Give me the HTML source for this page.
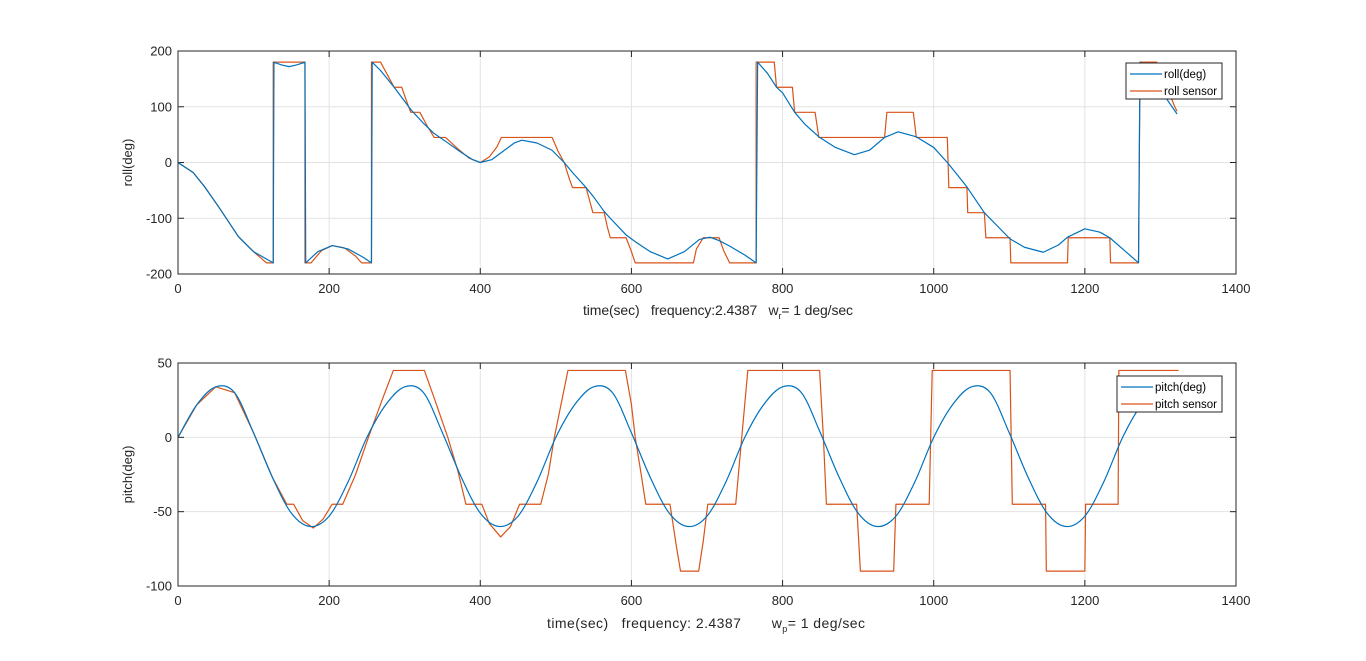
<!DOCTYPE html>
<html><head><meta charset="utf-8"><style>
html,body{margin:0;padding:0;background:#fff;}
svg{display:block;font-family:"Liberation Sans",Arial,sans-serif;}
</style></head><body>
<svg id="fig" width="1366" height="661" viewBox="0 0 1366 661" xmlns="http://www.w3.org/2000/svg">
<rect x="0" y="0" width="1366" height="661" fill="#fff"/>
</svg>
<script>
const xTicks=[0,200,400,600,800,1000,1200,1400];
const rollTicks=[-200,-100,0,100,200];
const pitchTicks=[-100,-50,0,50];
const rollT=[0,20,35,55,80,100,126,127,137,147,157,168,169,185,204,225,245,256,257,268,286,308,325,339,354,375,390,400,415,430,445,455,475,495,511,522,540,549,564,572,593,605,625,648,670,690,704,716,730,750,765,767,780,792,800,816,830,848,870,895,915,935,953,977,1000,1018,1030,1044,1067,1085,1101,1120,1145,1165,1177,1200,1220,1233,1250,1271,1273,1295,1322];
const rollV=[0,-18,-43,-82,-133,-160,-180,180,175,172,175,180,-180,-160,-149,-155,-170,-180,180,165,135,95,70,52,38,18,5,0,5,20,35,40,35,22,0,-18,-45,-60,-88,-100,-130,-142,-160,-173,-160,-138,-134,-140,-150,-166,-180,180,160,135,125,90,68,46,27,14,22,45,55,46,27,0,-20,-44,-90,-115,-137,-152,-161,-148,-134,-119,-125,-135,-155,-180,180,140,87];
const rollSensT=[0,20,35,55,80,100,117,126,126,168,168,176,190,204,220,235,243,256,256,268,278,286,296,302,308,320,330,339,354,370,385,400,412,422,428,495,503,511,518,522,540,545,549,564,568,572,593,600,605,682,686,695,716,722,730,765,765,789,792,813,816,843,848,935,938,973,977,1018,1019,1020,1044,1045,1067,1069,1101,1102,1177,1178,1233,1234,1271,1273,1295,1319,1322];
const rollSensV=[0,-18,-43,-82,-133,-160,-180,-180,180,180,-180,-180,-158,-149,-153,-168,-180,-180,180,180,155,135,135,112,90,90,65,45,45,25,8,0,10,28,45,45,20,0,-30,-45,-45,-70,-90,-90,-115,-135,-135,-160,-180,-180,-155,-135,-135,-158,-180,-180,180,180,135,135,90,90,45,45,90,90,45,45,0,-45,-45,-90,-90,-135,-135,-180,-180,-135,-135,-180,-180,180,180,100,92];
const pitchT=[0,25,50,75,100,125,150,175,200,225,250,275,300,325,350,375,400,425,450,475,500,525,550,575,600,625,650,675,700,725,750,775,800,825,850,875,900,925,950,975,1000,1025,1050,1075,1100,1125,1150,1175,1200,1225,1250,1275,1300,1325];
const pitchV=[0,22,34,30,3,-27,-51,-60,-53,-30,0,22,34,30,3,-27,-51,-60,-53,-30,0,22,34,30,3,-27,-51,-60,-53,-30,0,22,34,30,3,-27,-51,-60,-53,-30,0,22,34,30,3,-27,-51,-60,-53,-30,0,22,34,30];
const pitchSensT=[0,25,50,75,100,125,144,153,165,179,192,204,218,235,252,270,285,326,340,357,370,381,402,412,427,440,452,480,490,498,508,516,592,600,605,612,619,651,660,665,689,695,701,738,746,754,849,854,858,898,903,947,950,994,996,998,1101,1104,1148,1149,1200,1201,1244,1245,1324];
const pitchSensV=[0,22,34,30,3,-27,-45,-45,-56,-61,-55,-45,-45,-25,0,25,45,45,25,0,-22,-45,-45,-58,-67,-60,-45,-45,-25,0,25,45,45,22,0,-22,-45,-45,-75,-90,-90,-70,-45,-45,0,45,45,0,-45,-45,-90,-90,-45,-45,0,45,45,-45,-45,-90,-90,-45,-45,45,45];

const NS="http://www.w3.org/2000/svg";
const svg=document.getElementById('fig');
function mk(tag,attrs,parent){const e=document.createElementNS(NS,tag);for(const k in attrs)e.setAttribute(k,attrs[k]);(parent||svg).appendChild(e);return e;}
const X0=178,X1=1236;
const xs=t=>X0+(t/1400)*(X1-X0);

function axes(name,top,bot,yMin,yMax,yTicks,T1,V1,T2,V2,smooth,ylabel,lx,ly,lw,lab1,lab2){
  const ys=v=>bot-(v-yMin)/(yMax-yMin)*(bot-top);
  const g=mk('g',{});
  
  
  xTicks.forEach(t=>{
    const l=mk('line',{x1:xs(t),x2:xs(t),y1:top,y2:bot,stroke:'#e3e3e3','stroke-width':1},g);
    
    
    mk('line',{x1:xs(t),x2:xs(t),y1:bot,y2:bot-6,stroke:'#262626'},g);
    mk('line',{x1:xs(t),x2:xs(t),y1:top,y2:top+6,stroke:'#262626'},g);
    const tx=mk('text',{x:xs(t),y:bot+19,'font-size':13,'text-anchor':'middle',fill:'#262626'},g);
    tx.textContent=t;
    
    
  });
  yTicks.forEach(v=>{
    const l=mk('line',{x1:X0,x2:X1,y1:ys(v),y2:ys(v),stroke:'#e3e3e3','stroke-width':1},g);
    
    
    mk('line',{x1:X0,x2:X0+6,y1:ys(v),y2:ys(v),stroke:'#262626'},g);
    mk('line',{x1:X1,x2:X1-6,y1:ys(v),y2:ys(v),stroke:'#262626'},g);
    const tx=mk('text',{x:X0-6,y:ys(v)+4.5,'font-size':13,'text-anchor':'end',fill:'#262626'},g);
    tx.textContent=v;
    
    
  });
  const clip=mk('clipPath',{id:'clip-'+name},g);
  mk('rect',{x:X0,y:top-2,width:X1-X0,height:bot-top+4},clip);
  let d1;
  if(smooth){
    const P=T1.map((t,i)=>[xs(t),ys(V1[i])]);
    d1='M'+P[0][0]+','+P[0][1];
    for(let i=0;i<P.length-1;i++){
      const p0=P[Math.max(i-1,0)],p1=P[i],p2=P[i+1],p3=P[Math.min(i+2,P.length-1)];
      d1+=' C'+(p1[0]+(p2[0]-p0[0])/6)+','+(p1[1]+(p2[1]-p0[1])/6)+' '+(p2[0]-(p3[0]-p1[0])/6)+','+(p2[1]-(p3[1]-p1[1])/6)+' '+p2[0]+','+p2[1];
    }
  } else {
    d1='M'+T1.map((t,i)=>xs(t)+','+ys(V1[i])).join(' L');
  }
  const d2='M'+T2.map((t,i)=>xs(t)+','+ys(V2[i])).join(' L');
  const s2=mk('path',{d:d2,fill:'none',stroke:'#D95319','stroke-width':1.2,'clip-path':'url(#clip-'+name+')','stroke-linejoin':'round'},g);
  
  
  const s1=mk('path',{d:d1,fill:'none',stroke:'#0072BD','stroke-width':1.2,'clip-path':'url(#clip-'+name+')','stroke-linejoin':'round'},g);
  
  
  const box=mk('rect',{x:X0,y:top,width:X1-X0,height:bot-top,fill:'none',stroke:'#262626','stroke-width':1},g);
  
  
  const yl=mk('text',{x:0,y:0,'font-size':13,'text-anchor':'middle',fill:'#262626',transform:'translate('+(X0-46)+','+((top+bot)/2)+') rotate(-90)'},g);
  yl.textContent=ylabel;
  
  
  const lg=mk('g',{},g);
  
  
  mk('rect',{x:lx,y:ly,width:lw,height:36,fill:'#fff',stroke:'#262626','stroke-width':1},lg);
  [[lab1,'#0072BD'],[lab2,'#D95319']].forEach((e,i)=>{
    const yy=ly+11+i*17;
    mk('line',{x1:lx+4,x2:lx+36,y1:yy,y2:yy,stroke:e[1],'stroke-width':1.2},lg);
    const t=mk('text',{x:lx+38,y:yy+4,'font-size':11.5,fill:'#000'},lg);
    t.textContent=e[0];
    
    
  });
  return ys;
}
axes('roll',51,274,-200,200,rollTicks,rollT,rollV,rollSensT,rollSensV,false,'roll(deg)',1126,63,96,'roll(deg)','roll sensor');
axes('pitch',363,586,-100,50,pitchTicks,pitchT,pitchV,pitchSensT,pitchSensV,true,'pitch(deg)',1117,376,105,'pitch(deg)','pitch sensor');
</script>
<svg style="position:absolute;left:0;top:0" width="1366" height="661" xmlns="http://www.w3.org/2000/svg" font-family="Liberation Sans, Arial, sans-serif">
<text x="583" y="315" font-size="14" fill="#262626" xml:space="preserve" textLength="270" lengthAdjust="spacing">time(sec)   frequency:2.4387   w<tspan font-size="9" dy="4">r</tspan><tspan dy="-4">= 1 deg/sec</tspan></text>
<text x="547" y="628" font-size="14" fill="#262626" xml:space="preserve" textLength="318" lengthAdjust="spacing">time(sec)   frequency: 2.4387       w<tspan font-size="9" dy="4">p</tspan><tspan dy="-4">= 1 deg/sec</tspan></text>
</svg>
</body></html>
